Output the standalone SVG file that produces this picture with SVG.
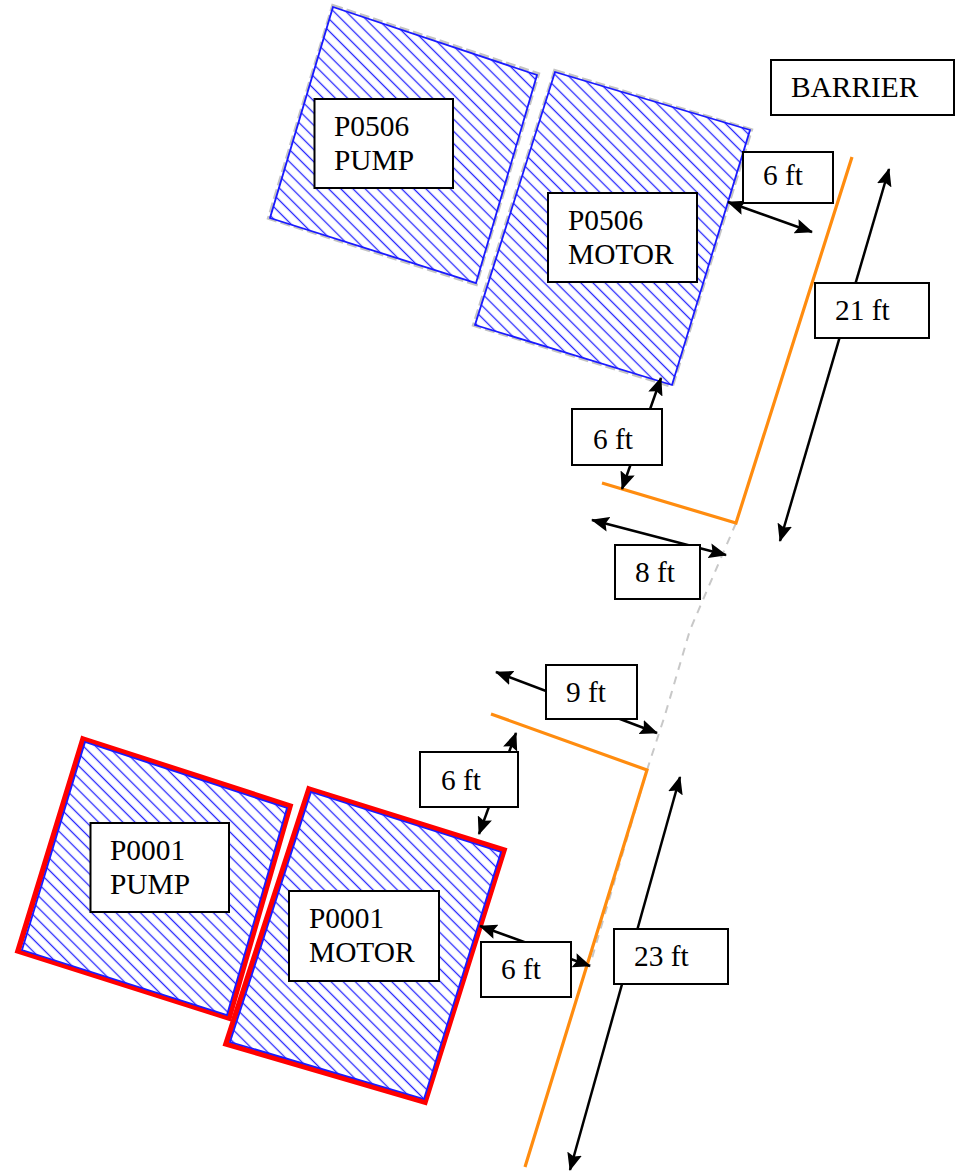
<svg xmlns="http://www.w3.org/2000/svg" width="956" height="1176" viewBox="0 0 956 1176">
<style>
.box{fill:#fff;stroke:#000;stroke-width:2}
.t{font-family:"Liberation Serif","Times New Roman",serif;font-size:29.400px;fill:#000}
.area{fill:url(#hatch);stroke:#1a1aff;stroke-width:1.8}
.halo{fill:none;stroke:#c4c4c4;stroke-width:4;stroke-dasharray:10 4}
.red{fill:none;stroke:#ff0000;stroke-width:5.500}
.wall{fill:none;stroke:#ff8c0f;stroke-width:3.200}
.gap{fill:none;stroke:#c8c8c8;stroke-width:2;stroke-dasharray:8 7}
.dim{stroke:#000;stroke-width:2.500;fill:none;marker-start:url(#ah);marker-end:url(#ah)}
</style>
<defs>
<pattern id="hatch" width="8.600" height="8.600" patternUnits="userSpaceOnUse" patternTransform="rotate(45)">
<rect width="8.600" height="8.600" fill="#fff"/>
<line x1="0" y1="4.300" x2="8.600" y2="4.300" stroke="#2626ff" stroke-width="1.300"/>
</pattern>
<marker id="ah" viewBox="0 0 18 15" refX="17" refY="7.500" markerWidth="18" markerHeight="15" markerUnits="userSpaceOnUse" orient="auto-start-reverse">
<path d="M0 0L18 7.500L0 15L3 7.500Z" fill="#000"/>
</marker>
</defs>

<g id="p0506-pump-area">
<polygon class="halo" points="333,6 538,74 476,284 269,218"/>
<polygon class="area" points="333,7 537,75 476,283 270,218"/>
</g>
<g id="p0506-motor-area">
<polygon class="halo" points="555,71 751,130 672,386 474,325"/>
<polygon class="area" points="555,72 750,130 672,385 475,325"/>
</g>
<g id="p0001-pump-area">
<polygon class="red" points="83,739 290,806 229,1018 18,951"/>
<polygon class="area" points="85,742 287,808 227,1015 22,950"/>
</g>
<g id="p0001-motor-area">
<polygon class="red" points="309,789 504,850 425,1102 226,1044"/>
<polygon class="area" points="311,792 501,852 424,1099 230,1042"/>
</g>

<g id="connectors">
<polyline class="gap" points="736,523 690,630 665,715 647,770 590,965"/>
<polyline class="wall" points="852,157 736,523 602,483"/>
<polyline class="wall" points="491,714 647,770 525,1167"/>
<line class="dim" x1="728" y1="202" x2="812" y2="232"/>
<line class="dim" x1="889" y1="169" x2="780" y2="541"/>
<line class="dim" x1="661" y1="378" x2="622" y2="489"/>
<line class="dim" x1="592" y1="520" x2="726" y2="555"/>
<line class="dim" x1="496" y1="672" x2="657" y2="733"/>
<line class="dim" x1="516" y1="733" x2="479" y2="834"/>
<line class="dim" x1="480" y1="926" x2="590" y2="966"/>
<line class="dim" x1="680" y1="777" x2="570" y2="1170"/>
</g>

<g id="label-p0506-pump"><rect class="box" x="314.500" y="99" width="138.500" height="89"/><text class="t" x="334" y="136">P0506</text><text class="t" x="334" y="170">PUMP</text></g>
<g id="label-p0506-motor"><rect class="box" x="548" y="193" width="149" height="89"/><text class="t" x="568" y="230">P0506</text><text class="t" x="568" y="264">MOTOR</text></g>
<g id="label-barrier"><rect class="box" x="771" y="60" width="183" height="55"/><text class="t" x="791" y="97">BARRIER</text></g>
<g id="label-6ft-a"><rect class="box" x="743" y="152" width="90" height="51"/><text class="t" x="763" y="185">6 ft</text></g>
<g id="label-21ft"><rect class="box" x="815" y="283" width="114" height="55"/><text class="t" x="835" y="320">21 ft</text></g>
<g id="label-6ft-b"><rect class="box" x="572" y="409" width="90" height="56"/><text class="t" x="593" y="449">6 ft</text></g>
<g id="label-8ft"><rect class="box" x="615" y="545" width="85" height="54"/><text class="t" x="635" y="582">8 ft</text></g>
<g id="label-9ft"><rect class="box" x="546" y="665" width="91" height="54"/><text class="t" x="566" y="702">9 ft</text></g>
<g id="label-6ft-c"><rect class="box" x="420" y="752" width="98" height="55"/><text class="t" x="441" y="790">6 ft</text></g>
<g id="label-p0001-pump"><rect class="box" x="90.500" y="823" width="138.500" height="89"/><text class="t" x="110" y="860">P0001</text><text class="t" x="110" y="894">PUMP</text></g>
<g id="label-p0001-motor"><rect class="box" x="289" y="891" width="150" height="90"/><text class="t" x="309" y="928">P0001</text><text class="t" x="309" y="962">MOTOR</text></g>
<g id="label-6ft-d"><rect class="box" x="481" y="942" width="90" height="55"/><text class="t" x="501" y="979">6 ft</text></g>
<g id="label-23ft"><rect class="box" x="614" y="929" width="114" height="55"/><text class="t" x="634" y="966">23 ft</text></g>
</svg>
